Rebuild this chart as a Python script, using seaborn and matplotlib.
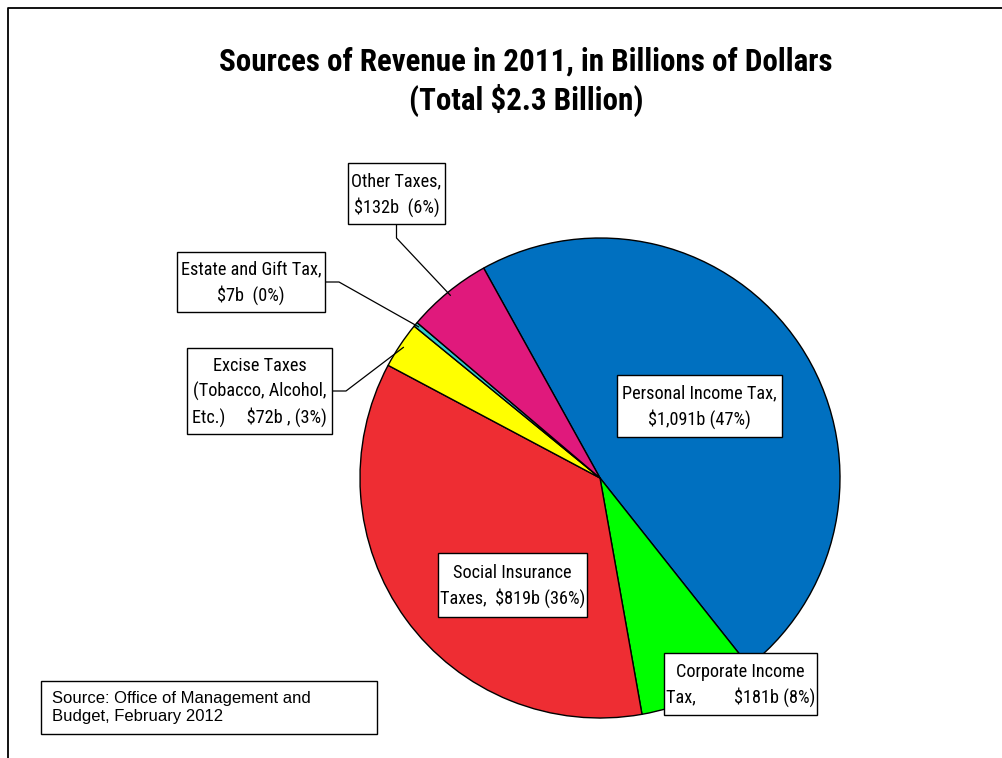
import numpy as np
import matplotlib
matplotlib.use("Agg")
import matplotlib.pyplot as plt
from matplotlib import font_manager as fm
from matplotlib.patches import Rectangle
import seaborn as sns

# Data (billions of dollars, FY2011), clockwise from the top
categories = ['Personal Income Tax', 'Corporate Income Tax', 'Social Insurance Taxes',
              'Excise Taxes', 'Estate and Gift Tax', 'Other Taxes']
values = [1091, 181, 819, 72, 7, 132]
label_texts = [
    'Personal Income Tax,\n$1,091b (47%)',
    'Corporate Income\nTax,         $181b (8%)',
    'Social Insurance\nTaxes,  $819b (36%)',
    'Excise Taxes\n(Tobacco, Alcohol,\nEtc.)     $72b , (3%)',
    'Estate and Gift Tax,\n$7b  (0%)',
    'Other Taxes,\n$132b  (6%)',
]
colors = ['#0070C0', '#00FF00', '#EE2D33', '#FFFF00', '#33CCCC', '#E0197C']

title = 'Sources of Revenue in 2011, in Billions of Dollars\n(Total $2.3 Billion)'
source = 'Source: Office of Management and\nBudget, February 2012'

sns.set_theme(style="white")
plt.rcParams['font.family'] = ['Liberation Sans', 'DejaVu Sans']
plt.rcParams['text.color'] = 'black'

# pick a condensed face if one is installed
narrow = ['Liberation Sans', 'DejaVu Sans']
for fam in ['Liberation Sans Narrow', 'Arial Narrow', 'Roboto Condensed']:
    try:
        fm.findfont(fm.FontProperties(family=fam), fallback_to_default=False)
        narrow = [fam, 'DejaVu Sans']
        break
    except ValueError:
        pass

W, H = 1003, 758
fig = plt.figure(figsize=(W / 100, H / 100), dpi=100)
ax = fig.add_axes([0, 0, 1, 1])
renderer = fig.canvas.get_renderer()


def Y(py):
    return H - py


# pie in pixel-like coordinates
cx, cy, r = 600, 478, 240
wedges, _ = ax.pie(values, colors=colors, startangle=119, counterclock=False,
                   center=(cx, Y(cy)), radius=r,
                   wedgeprops=dict(edgecolor='black', linewidth=1.0))
ax.set_xlim(0, W)
ax.set_ylim(0, H)
ax.set_aspect('equal')
ax.axis('off')

# outer frame (only top and left visible)
ax.plot([8, 8, W + 5], [Y(H + 5), Y(8), Y(8)], color='black', lw=1.3, clip_on=False)

# title, scaled so its first line is as wide as in the original
t = ax.text(526, Y(82), title.split('\n')[0], ha='center', va='center', fontsize=22,
            fontweight='bold', family=narrow)
scale = 612 / t.get_window_extent(renderer).width
t.remove()
tsize = 22 * scale
ax.text(526, Y(82), title, ha='center', va='center', fontsize=tsize, fontweight='bold',
        family=narrow, linespacing=40 / (tsize * 100 / 72))
lsize = 13 * scale

# label boxes: (x0, y0, x1, y1) in pixels
boxes = {
    'Personal Income Tax': (617, 375, 782, 437),
    'Corporate Income Tax': (664, 653, 817, 715),
    'Social Insurance Taxes': (438, 553, 587, 617),
    'Excise Taxes': (187, 348, 332, 434),
    'Estate and Gift Tax': (177, 252, 325, 312),
    'Other Taxes': (348, 163, 445, 224),
}

for cat, txt, w in zip(categories, label_texts, wedges):
    x0, y0, x1, y1 = boxes[cat]
    ax.add_patch(Rectangle((x0, Y(y1)), x1 - x0, y1 - y0, facecolor='white',
                           edgecolor='black', lw=1.0, zorder=3))
    ax.text((x0 + x1) / 2, Y((y0 + y1) / 2) - 1, txt, ha='center', va='center',
            fontsize=lsize, family=narrow, linespacing=26.5 / (lsize * 100 / 72), zorder=4)
    # leader lines for outside labels, ending at the wedge's middle on the rim
    if cat in ('Excise Taxes', 'Estate and Gift Tax', 'Other Taxes'):
        mid = np.deg2rad((w.theta1 + w.theta2) / 2)
        ex, ey = cx + (r - 4) * np.cos(mid), Y(cy) + (r - 4) * np.sin(mid)
        if cat == 'Other Taxes':
            sx, sy = (x0 + x1) / 2, Y(y1)
            kx, ky = sx, Y(y1 + 14)
        else:
            sx, sy = x1, Y((y0 + y1) / 2)
            kx, ky = x1 + 14, sy
        ax.plot([sx, kx, ex], [sy, ky, ey], color='black', lw=0.9, zorder=2)

# source box
ax.add_patch(Rectangle((41, Y(734)), 336, 53, facecolor='white', edgecolor='black', lw=1.0))
ax.text(52, Y(707.5), source, ha='left', va='center', fontsize=12, linespacing=1.2)

fig.savefig('out.png', dpi=100)
